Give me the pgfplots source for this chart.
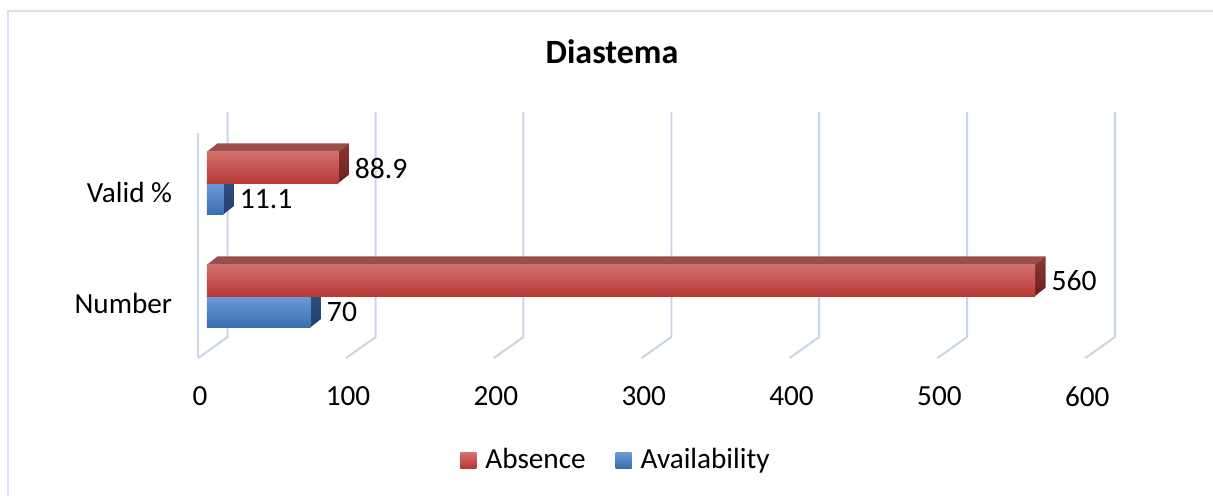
\documentclass[border=0pt]{standalone}
\usepackage{pgfplots}
\pgfplotsset{compat=1.18}
\usepackage{pgfplotstable}
\usepackage{fontspec}
\setmainfont{Carlito}

% colours of the bar faces, grid and frame
\definecolor{redFrontTop}{HTML}{D2716E}
\definecolor{redFrontBot}{HTML}{B73935}
\definecolor{redSideTop}{HTML}{8E3532}
\definecolor{redSideBot}{HTML}{6A2220}
\definecolor{redTopFace}{HTML}{9A4F4C}
\definecolor{blueFrontTop}{HTML}{6B9BD7}
\definecolor{blueFrontBot}{HTML}{3B6DB0}
\definecolor{blueSideTop}{HTML}{305486}
\definecolor{blueSideBot}{HTML}{223F68}
\definecolor{blueTopFace}{HTML}{4A6E9E}
\definecolor{gridcol}{HTML}{C9D6E8}
\definecolor{framecol}{HTML}{D6E3F3}

\pgfplotstableread{
cat absence availability
1   88.9    11.1
0   560     70
}\diastema

% depth offset of a bar (axis units) and bar thickness
\def\dX{7.1}
\def\dY{0.0735}
\def\bw{0.277}

% one 3-D bar: value, y low, y high, front top/bottom, side top/bottom, top face
\newcommand\drawbar[8]{%
  \pgfmathsetmacro\xe{#1+\dX}%
  \pgfmathsetmacro\yla{#2+\dY}%
  \pgfmathsetmacro\yha{#3+\dY}%
  \addplot[forget plot, draw=none, fill=#8]
    coordinates {(0,#3) (#1,#3) (\xe,\yha) (\dX,\yha)} -- cycle;
  \addplot[forget plot, draw=none, top color=#6, bottom color=#7]
    coordinates {(#1,#2) (\xe,\yla) (\xe,\yha) (#1,#3)} -- cycle;
  \addplot[forget plot, draw=none, top color=#4, bottom color=#5]
    coordinates {(0,#2) (#1,#2) (#1,#3) (0,#3)} -- cycle;
}

\begin{document}
\begin{tikzpicture}[x=1pt,y=1pt]
\useasboundingbox (0,0) rectangle (606.5,247.5);
% chart area border
\draw[framecol, line width=1pt] (3.75,-10) -- (3.75,242.25) -- (620,242.25);
% title
\node[font=\bfseries\fontsize{17}{20}\selectfont] at (306,221.5) {Diastema};

\begin{axis}[
  at={(96.105pt,62.775pt)}, anchor=south west,
  scale only axis, width=465.76pt, height=135.6pt,
  xmin=-10, xmax=620, ymin=-0.65, ymax=1.75,
  clip=false,
  axis line style={draw=none},
  major tick length=0pt,
  xtick={-6,94,194,294,394,494,594},
  xticklabels={0,100,200,300,400,500,600},
  ytick={-0.062,0.912},
  yticklabels={Number,Valid \%},
  every tick label/.append style={font=\fontsize{14.6}{17}\selectfont},
  xticklabel style={yshift=-5pt, xshift=1pt},
  yticklabel style={xshift=-6.5pt},
  /pgf/number format/assume math mode=true,
  legend style={at={(0.456,-0.334)}, anchor=center, draw=none,
    font=\fontsize{14.6}{17}\selectfont, legend columns=2,
    /tikz/every even column/.append style={column sep=13pt},
    legend cell align=left},
]
% back wall grid and floor lines
\addplot[gridcol, line width=1pt, forget plot] coordinates {(-6,-0.549) (-6,1.442)};
\addplot[gridcol, line width=1pt, forget plot] coordinates {(-6,-0.549) (14,-0.363) (14,1.628)};
\addplot[gridcol, line width=1pt, forget plot] coordinates {(94,-0.549) (114,-0.363) (114,1.628)};
\addplot[gridcol, line width=1pt, forget plot] coordinates {(194,-0.549) (214,-0.363) (214,1.628)};
\addplot[gridcol, line width=1pt, forget plot] coordinates {(294,-0.549) (314,-0.363) (314,1.628)};
\addplot[gridcol, line width=1pt, forget plot] coordinates {(394,-0.549) (414,-0.363) (414,1.628)};
\addplot[gridcol, line width=1pt, forget plot] coordinates {(494,-0.549) (514,-0.363) (514,1.628)};
\addplot[gridcol, line width=1pt, forget plot] coordinates {(594,-0.549) (614,-0.363) (614,1.628)};

% Valid %
\drawbar{11.1}{1-\bw}{1}{blueFrontTop}{blueFrontBot}{blueSideTop}{blueSideBot}{blueTopFace}
\drawbar{88.9}{1}{1+\bw}{redFrontTop}{redFrontBot}{redSideTop}{redSideBot}{redTopFace}
% Number
\drawbar{70}{-\bw}{0}{blueFrontTop}{blueFrontBot}{blueSideTop}{blueSideBot}{blueTopFace}
\drawbar{560}{0}{\bw}{redFrontTop}{redFrontBot}{redSideTop}{redSideBot}{redTopFace}

% value labels
\addplot[draw=none, forget plot, nodes near coords, point meta=explicit,
  every node near coord/.append style={anchor=west, text=black, inner sep=2.8pt,
    font=\fontsize{14.8}{17}\selectfont}]
  table[x expr=\thisrow{absence}+\dX, y expr=\thisrow{cat}+0.132, meta=absence] {\diastema};
\addplot[draw=none, forget plot, nodes near coords, point meta=explicit,
  every node near coord/.append style={anchor=west, text=black, inner sep=2.8pt,
    font=\fontsize{14.8}{17}\selectfont}]
  table[x expr=\thisrow{availability}+\dX, y expr=\thisrow{cat}-0.142, meta=availability] {\diastema};

\addlegendimage{legend image code/.code={
  \path[draw=none, fill=none] (0pt,0pt) -- (10.5pt,0pt);
  \shade[draw=none, top color=redFrontTop, bottom color=redFrontBot] (0pt,-4pt) rectangle (8pt,4pt);}}
\addlegendentry{Absence}
\addlegendimage{legend image code/.code={
  \path[draw=none, fill=none] (0pt,0pt) -- (10.5pt,0pt);
  \shade[draw=none, top color=blueFrontTop, bottom color=blueFrontBot] (0pt,-4pt) rectangle (8pt,4pt);}}
\addlegendentry{Availability}
\end{axis}
\end{tikzpicture}
\end{document}
